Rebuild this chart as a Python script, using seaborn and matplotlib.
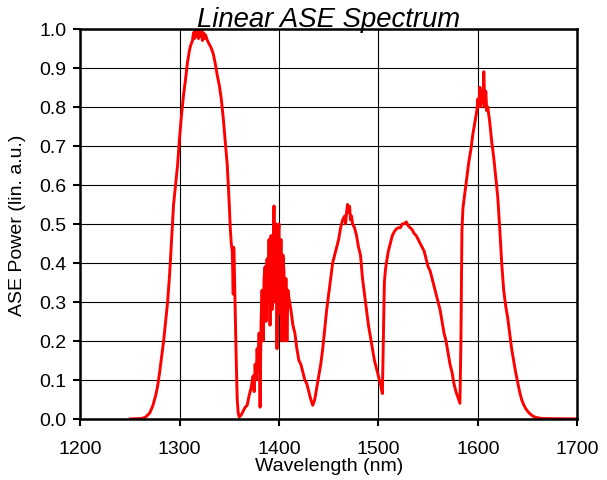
import matplotlib
matplotlib.use("Agg")
import matplotlib.pyplot as plt
import seaborn as sns

# wavelength (nm) and linear ASE power
wavelength = [
    1250, 1262, 1266, 1270, 1273, 1276, 1278, 1280, 1282, 1284, 1286, 1288,
    1290, 1292, 1294, 1296, 1298, 1300, 1302, 1304, 1306, 1308, 1310, 1311,
    1313, 1314, 1315, 1316, 1317, 1318, 1319, 1320, 1321, 1322, 1323, 1324,
    1325, 1326, 1328, 1330, 1332, 1334, 1336, 1338, 1340, 1342, 1344, 1346,
    1348, 1350, 1351, 1352, 1353, 1354, 1354.5, 1355, 1356, 1357, 1358, 1359,
    1360, 1362, 1364, 1366, 1368, 1370, 1372, 1374, 1375, 1376, 1377, 1378,
    1379, 1380, 1381, 1382, 1383, 1384, 1385, 1386, 1387, 1388, 1389, 1390,
    1391, 1392, 1393, 1394, 1395, 1396, 1397, 1398, 1399, 1400, 1401, 1402,
    1403, 1404, 1405, 1406, 1407, 1408, 1409, 1410, 1412, 1414, 1416, 1418,
    1420, 1422, 1424, 1426, 1428, 1430, 1432, 1434, 1436, 1438, 1440, 1442,
    1444, 1446, 1448, 1450, 1452, 1454, 1456, 1458, 1460, 1462, 1464, 1466,
    1467, 1468, 1469, 1470, 1471, 1472, 1473, 1474, 1476, 1478, 1480, 1482,
    1484, 1486, 1488, 1490, 1492, 1494, 1496, 1498, 1500, 1502, 1504, 1505,
    1506, 1507, 1508, 1510, 1512, 1514, 1516, 1518, 1520, 1522, 1524, 1526,
    1528, 1530, 1532, 1534, 1536, 1538, 1540, 1542, 1544, 1546, 1548, 1550,
    1552, 1554, 1556, 1558, 1560, 1562, 1564, 1566, 1568, 1570, 1572, 1574,
    1576, 1578, 1580, 1582, 1583, 1584, 1585, 1587, 1589, 1591, 1593, 1595,
    1597, 1599, 1600, 1601, 1602, 1603, 1604, 1605, 1606, 1607, 1608, 1609,
    1610, 1612, 1614, 1616, 1618, 1620, 1622, 1624, 1626, 1628, 1630, 1632,
    1634, 1636, 1638, 1640, 1642, 1644, 1646, 1648, 1650, 1652, 1654, 1656,
    1660, 1665, 1700,
]
power = [
    0.0, 0.001, 0.005, 0.015, 0.033, 0.06, 0.085, 0.12, 0.16, 0.2, 0.25, 0.3,
    0.37, 0.46, 0.55, 0.6, 0.65, 0.72, 0.78, 0.83, 0.87, 0.915, 0.945, 0.956,
    0.97, 0.99, 0.975, 1.0, 0.98, 1.0, 0.975, 0.995, 0.98, 1.0, 0.97, 0.99,
    0.975, 0.985, 0.97, 0.96, 0.95, 0.935, 0.91, 0.88, 0.855, 0.82, 0.77, 0.71,
    0.65, 0.55, 0.49, 0.45, 0.43, 0.32, 0.44, 0.40, 0.27, 0.15, 0.05, 0.015,
    0.005, 0.01, 0.02, 0.03, 0.035, 0.06, 0.08, 0.11, 0.07, 0.14, 0.10, 0.18,
    0.12, 0.22, 0.03, 0.25, 0.33, 0.20, 0.36, 0.39, 0.25, 0.41, 0.30, 0.46,
    0.24, 0.47, 0.28, 0.42, 0.546, 0.30, 0.50, 0.18, 0.45, 0.50, 0.27, 0.46,
    0.20, 0.42, 0.38, 0.20, 0.36, 0.20, 0.33, 0.31, 0.28, 0.24, 0.22, 0.18,
    0.15, 0.14, 0.12, 0.10, 0.09, 0.07, 0.05, 0.035, 0.05, 0.08, 0.11, 0.14,
    0.18, 0.23, 0.28, 0.32, 0.36, 0.40, 0.42, 0.44, 0.46, 0.49, 0.51, 0.52,
    0.50, 0.53, 0.55, 0.53, 0.545, 0.51, 0.52, 0.50, 0.49, 0.47, 0.44, 0.42,
    0.36, 0.32, 0.28, 0.24, 0.21, 0.18, 0.15, 0.13, 0.11, 0.09, 0.065, 0.2,
    0.35, 0.38, 0.40, 0.43, 0.45, 0.47, 0.48, 0.487, 0.49, 0.49, 0.50, 0.50,
    0.505, 0.495, 0.49, 0.485, 0.475, 0.47, 0.46, 0.45, 0.44, 0.43, 0.41, 0.39,
    0.38, 0.36, 0.34, 0.32, 0.30, 0.28, 0.25, 0.22, 0.20, 0.17, 0.14, 0.12,
    0.09, 0.07, 0.055, 0.04, 0.2, 0.48, 0.54, 0.58, 0.62, 0.66, 0.69, 0.73,
    0.76, 0.79, 0.82, 0.80, 0.85, 0.80, 0.84, 0.81, 0.89, 0.80, 0.84, 0.79,
    0.80, 0.76, 0.71, 0.67, 0.62, 0.57, 0.49, 0.40, 0.33, 0.29, 0.26, 0.22,
    0.18, 0.15, 0.12, 0.095, 0.07, 0.05, 0.037, 0.027, 0.02, 0.014, 0.01, 0.006,
    0.003, 0.001, 0.0,
]
x_ticks = [1200, 1300, 1400, 1500, 1600, 1700]
y_ticks = [0.0, 0.1, 0.2, 0.3, 0.4, 0.5, 0.6, 0.7, 0.8, 0.9, 1.0]

sns.set_style("white")
plt.rcParams['font.family'] = ['Liberation Sans', 'DejaVu Sans']
plt.rcParams['text.color'] = 'black'
plt.rcParams['axes.labelcolor'] = 'black'
plt.rcParams['xtick.color'] = 'black'
plt.rcParams['ytick.color'] = 'black'

fig = plt.figure(figsize=(6.07, 4.81), dpi=100)
ax = fig.add_axes([0.132, 0.127, 0.819, 0.811])

sns.lineplot(x=wavelength, y=power, ax=ax, color='#ff0000', linewidth=2.1,
             estimator=None, sort=False)

ax.set_xlim(1200, 1700)
ax.set_ylim(0, 1.0)
ax.set_xticks(x_ticks)
ax.set_yticks(y_ticks)
ax.set_yticklabels([f'{v:.1f}' for v in y_ticks])
ax.grid(True, color='black', linewidth=0.8)
ax.set_axisbelow(True)
for s in ax.spines.values():
    s.set_visible(True)
    s.set_color('black')
    s.set_linewidth(1.8)
ax.tick_params(axis='both', direction='out', length=5, width=1.5,
               labelsize=14, bottom=True, left=True)
ax.tick_params(axis='x', pad=10)
ax.tick_params(axis='y', pad=5)

ax.set_xlabel('Wavelength (nm)', fontsize=14, labelpad=0)
ax.set_ylabel('ASE Power (lin. a.u.)', fontsize=14, labelpad=9)
ax.set_title('Linear ASE Spectrum', fontsize=19.8, style='italic', pad=2)

fig.savefig('out.png', dpi=100)
